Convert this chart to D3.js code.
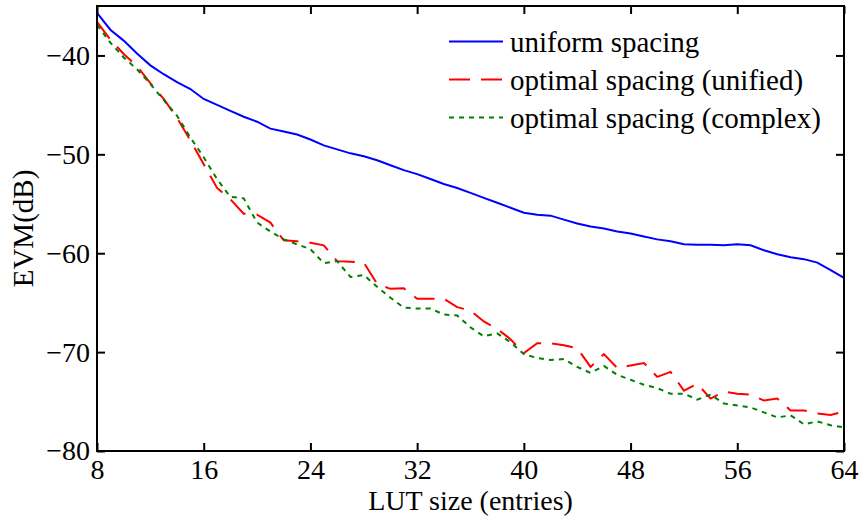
<!DOCTYPE html>
<html>
<head>
<meta charset="utf-8">
<script src="https://cdn.jsdelivr.net/npm/d3@7"></script>
<style>
  html, body { margin: 0; padding: 0; background: #fff; }
  svg { display: block; }
  text { font-family: "Liberation Serif", "Times New Roman", Times, serif; fill: #000; }
</style>
</head>
<body>
<svg id="chart" width="864" height="517"></svg>
<script>
const lutSize = [8,9,10,11,12,13,14,15,16,17,18,19,20,21,22,23,24,25,26,27,28,29,30,31,32,33,34,35,36,37,38,39,40,41,42,43,44,45,46,47,48,49,50,51,52,53,54,55,56,57,58,59,60,61,62,63,64];

const uniformSpacing = [-35.7,-37.4,-38.5,-39.8,-41.0,-41.9,-42.7,-43.4,-44.4,-45.0,-45.6,-46.2,-46.7,-47.4,-47.7,-48.0,-48.5,-49.1,-49.5,-49.9,-50.2,-50.6,-51.1,-51.6,-52.0,-52.5,-53.0,-53.4,-53.9,-54.4,-54.9,-55.4,-55.9,-56.1,-56.2,-56.6,-57.0,-57.3,-57.5,-57.8,-58.0,-58.3,-58.6,-58.8,-59.1,-59.15,-59.15,-59.2,-59.1,-59.2,-59.7,-60.1,-60.4,-60.6,-60.95,-61.7,-62.5];

const optimalUnified = [-36.6,-38.4,-39.85,-41.1,-42.8,-44.4,-46.3,-48.6,-51.0,-53.4,-54.55,-56.0,-56.1,-56.9,-58.7,-58.8,-58.95,-59.2,-60.8,-60.85,-60.95,-63.1,-63.6,-63.55,-64.6,-64.6,-64.6,-65.45,-65.8,-66.9,-67.65,-68.7,-70.1,-69.1,-69.1,-69.3,-69.6,-71.5,-70.2,-71.6,-71.35,-71.1,-72.5,-72.0,-73.9,-73.2,-74.7,-74.0,-74.2,-74.3,-74.9,-74.7,-75.9,-75.9,-76.2,-76.35,-76.0];

const optimalComplex = [-36.9,-38.7,-40.2,-41.4,-42.9,-44.5,-46.1,-48.3,-50.3,-52.5,-54.3,-54.45,-56.9,-57.8,-58.6,-59.1,-59.6,-61.0,-60.8,-62.4,-62.2,-63.4,-64.5,-65.5,-65.6,-65.6,-66.2,-66.3,-67.5,-68.4,-68.1,-69.0,-70.2,-70.6,-70.8,-70.7,-71.5,-72.1,-71.4,-72.3,-72.8,-73.3,-73.65,-74.2,-74.2,-74.8,-74.3,-75.2,-75.4,-75.6,-76.1,-76.6,-76.4,-77.3,-77.0,-77.4,-77.6];

const xTicks = [8,16,24,32,40,48,56,64];
const yTicks = [-80,-70,-60,-50,-40];
const seriesNames = ["uniform spacing", "optimal spacing (unified)", "optimal spacing (complex)"];
const xLabel = "LUT size (entries)";
const yLabel = "EVM(dB)";

(function () {
const svg = d3.select("#chart");
const pL = 97, pR = 844, pT = 6, pB = 451;
const x = d3.scaleLinear().domain([8, 64]).range([pL, pR]);
const y = d3.scaleLinear().domain([-80, -35]).range([pB, pT]);

const fmt = d => (d < 0 ? "\u2212" + Math.abs(d) : String(d));
const tickFont = 28;
const labelFont = 29;

const series = [
  { name: seriesNames[0], values: uniformSpacing, color: "#0000ff", dash: null },
  { name: seriesNames[1], values: optimalUnified, color: "#ff0000", dash: "21,11" },
  { name: seriesNames[2], values: optimalComplex, color: "#008000", dash: "5,5" }
];
const line = d3.line().x((d, i) => x(lutSize[i])).y(d => y(d));
series.forEach(s => {
  svg.append("path")
    .datum(s.values)
    .attr("d", line)
    .attr("fill", "none")
    .attr("stroke", s.color)
    .attr("stroke-width", 2)
    .attr("stroke-dasharray", s.dash);
});

const styleAxis = g => {
  g.select(".domain").remove();
  g.selectAll(".tick line").attr("stroke", "#000").attr("stroke-width", 2);
  g.selectAll(".tick text").style("font-size", tickFont + "px").attr("fill", "#000")
    .style("font-family", '"Liberation Serif", "Times New Roman", serif');
};
svg.append("g").attr("transform", `translate(0,${pB})`)
  .call(d3.axisBottom(x).tickValues(xTicks).tickSizeInner(-8).tickSizeOuter(0).tickPadding(8).tickFormat(fmt))
  .call(styleAxis);
svg.append("g").attr("transform", `translate(0,${pT})`)
  .call(d3.axisTop(x).tickValues(xTicks).tickSizeInner(-8).tickSizeOuter(0).tickFormat(""))
  .call(styleAxis);
svg.append("g").attr("transform", `translate(${pL},0)`)
  .call(d3.axisLeft(y).tickValues(yTicks).tickSizeInner(-8).tickSizeOuter(0).tickPadding(7).tickFormat(fmt))
  .call(styleAxis);
svg.append("g").attr("transform", `translate(${pR},0)`)
  .call(d3.axisRight(y).tickValues(yTicks).tickSizeInner(-8).tickSizeOuter(0).tickFormat(""))
  .call(styleAxis);

svg.append("rect")
  .attr("x", pL).attr("y", pT)
  .attr("width", pR - pL).attr("height", pB - pT)
  .attr("fill", "none").attr("stroke", "#000").attr("stroke-width", 2);

svg.append("text")
  .attr("x", (pL + pR) / 2).attr("y", 510)
  .attr("text-anchor", "middle")
  .style("font-size", "28px")
  .text(xLabel);
svg.append("text")
  .attr("transform", `translate(33,${(pT + pB) / 2}) rotate(-90)`)
  .attr("text-anchor", "middle")
  .style("font-size", labelFont + "px")
  .text(yLabel);

const legend = svg.append("g");
series.forEach((s, i) => {
  const base = 52 + i * 38;
  legend.append("line")
    .attr("x1", 449).attr("x2", 503)
    .attr("y1", base - 10.5).attr("y2", base - 10.5)
    .attr("stroke", s.color).attr("stroke-width", 2)
    .attr("stroke-dasharray", s.dash);
  legend.append("text")
    .attr("x", 510).attr("y", base)
    .style("font-size", labelFont + "px")
    .text(s.name);
});
})();
</script>
</body>
</html>
